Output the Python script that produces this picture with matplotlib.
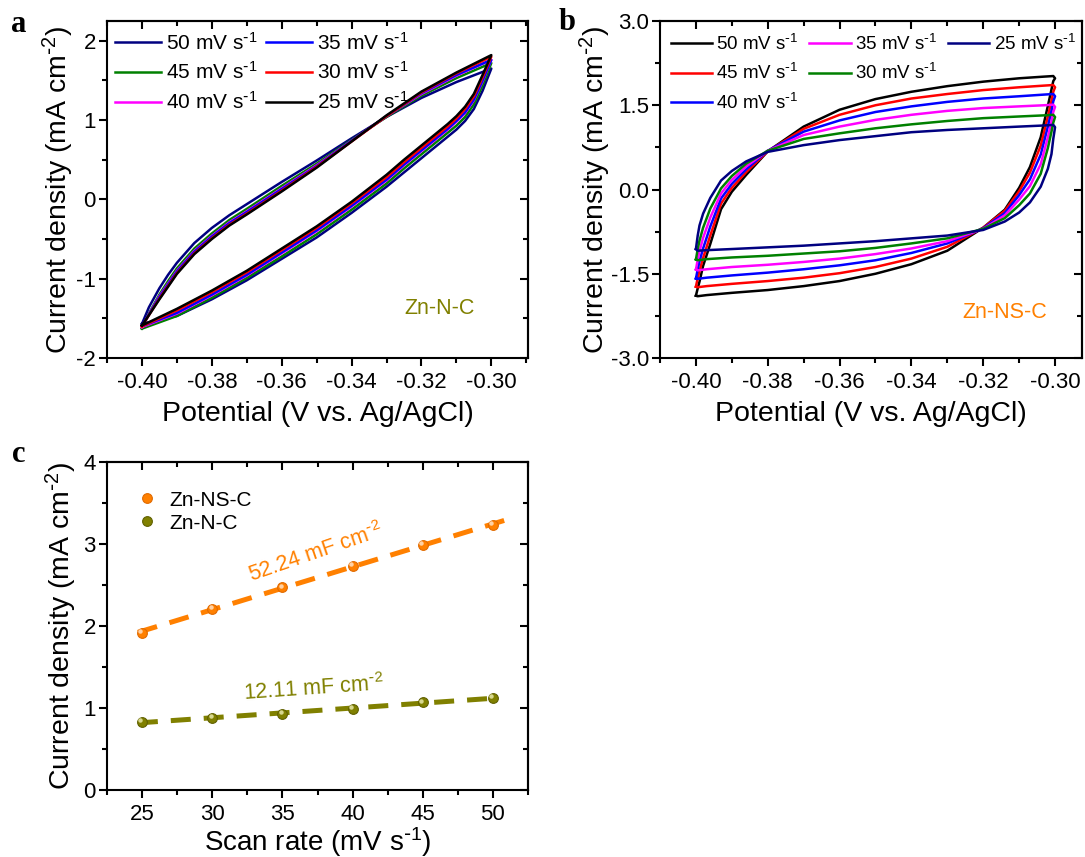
import numpy as np
import matplotlib.pyplot as plt
from matplotlib.ticker import MultipleLocator, FormatStrFormatter
from matplotlib.lines import Line2D
from matplotlib.transforms import ScaledTranslation

plt.rcParams['font.family'] = ['Liberation Sans', 'DejaVu Sans']
plt.rcParams['mathtext.default'] = 'regular'
plt.rcParams['axes.unicode_minus'] = False

# ---- panel a: Zn-N-C CV curves ----
e_a_up = [-0.400, -0.398, -0.395, -0.3925, -0.390, -0.385, -0.380, -0.375,
          -0.370, -0.360, -0.350, -0.340, -0.330, -0.320, -0.310, -0.300]
e_a_dn = [-0.300, -0.3025, -0.305, -0.3075, -0.310, -0.3125, -0.315, -0.320, -0.325,
          -0.330, -0.340, -0.350, -0.360, -0.370, -0.380, -0.390, -0.400]
a_up_50 = [-1.57, -1.36, -1.12, -0.95, -0.80, -0.55, -0.36, -0.20, -0.06, 0.22, 0.49, 0.77, 1.04, 1.28, 1.48, 1.65]
a_up_45 = [-1.63, -1.44, -1.20, -1.03, -0.87, -0.62, -0.43, -0.26, -0.12, 0.17, 0.45, 0.75, 1.04, 1.31, 1.53, 1.72]
a_up_40 = [-1.61, -1.45, -1.22, -1.06, -0.90, -0.65, -0.46, -0.29, -0.15, 0.14, 0.43, 0.74, 1.05, 1.33, 1.56, 1.76]
a_up_35 = [-1.60, -1.45, -1.23, -1.07, -0.91, -0.66, -0.47, -0.30, -0.16, 0.13, 0.42, 0.74, 1.05, 1.34, 1.57, 1.76]
a_up_30 = [-1.60, -1.46, -1.25, -1.09, -0.93, -0.68, -0.49, -0.32, -0.18, 0.11, 0.41, 0.73, 1.05, 1.35, 1.59, 1.80]
a_up_25 = [-1.59, -1.46, -1.26, -1.10, -0.94, -0.69, -0.50, -0.33, -0.19, 0.10, 0.40, 0.73, 1.06, 1.36, 1.60, 1.82]
a_dn_50 = [1.65, 1.37, 1.14, 0.99, 0.88, 0.79, 0.70, 0.52, 0.34, 0.16, -0.17, -0.48, -0.75, -1.02, -1.26, -1.47, -1.57]
a_dn_45 = [1.72, 1.44, 1.20, 1.04, 0.93, 0.84, 0.75, 0.57, 0.39, 0.20, -0.13, -0.44, -0.72, -0.99, -1.24, -1.47, -1.63]
a_dn_40 = [1.76, 1.49, 1.25, 1.09, 0.98, 0.88, 0.79, 0.61, 0.43, 0.24, -0.09, -0.40, -0.68, -0.96, -1.21, -1.44, -1.61]
a_dn_35 = [1.76, 1.50, 1.26, 1.10, 0.99, 0.89, 0.80, 0.62, 0.44, 0.25, -0.08, -0.39, -0.67, -0.95, -1.20, -1.43, -1.60]
a_dn_30 = [1.80, 1.54, 1.30, 1.14, 1.02, 0.92, 0.83, 0.65, 0.47, 0.28, -0.05, -0.36, -0.64, -0.92, -1.17, -1.40, -1.60]
a_dn_25 = [1.82, 1.57, 1.33, 1.17, 1.05, 0.95, 0.86, 0.68, 0.50, 0.31, -0.03, -0.34, -0.62, -0.90, -1.15, -1.38, -1.59]

# ---- panel b: Zn-NS-C CV curves ----
e_b_up = [-0.400, -0.3995, -0.399, -0.398, -0.396, -0.393, -0.390, -0.386, -0.380, -0.370,
          -0.360, -0.350, -0.340, -0.330, -0.320, -0.310, -0.303, -0.3005, -0.300]
e_b_dn = [-0.300, -0.3005, -0.301, -0.302, -0.304, -0.307, -0.310, -0.314, -0.320, -0.330,
          -0.340, -0.350, -0.360, -0.370, -0.380, -0.390, -0.397, -0.3995, -0.400]
b_up_50 = [-1.89, -1.76, -1.64, -1.36, -0.97, -0.35, -0.04, 0.26, 0.68, 1.12,
           1.42, 1.61, 1.74, 1.84, 1.92, 1.98, 2.01, 2.02, 1.98]
b_up_45 = [-1.73, -1.58, -1.45, -1.22, -0.82, -0.25, 0.03, 0.31, 0.68, 1.08,
           1.33, 1.50, 1.62, 1.70, 1.77, 1.82, 1.85, 1.86, 1.82]
b_up_40 = [-1.59, -1.42, -1.28, -1.05, -0.66, -0.16, 0.10, 0.36, 0.69, 1.03,
           1.23, 1.38, 1.48, 1.56, 1.62, 1.66, 1.69, 1.70, 1.66]
b_up_35 = [-1.43, -1.25, -1.10, -0.86, -0.50, -0.07, 0.17, 0.41, 0.69, 0.97,
           1.12, 1.24, 1.33, 1.40, 1.45, 1.48, 1.50, 1.51, 1.47]
b_up_30 = [-1.25, -1.06, -0.91, -0.68, -0.34, 0.02, 0.24, 0.46, 0.69, 0.90,
           1.00, 1.09, 1.16, 1.22, 1.27, 1.30, 1.32, 1.33, 1.29]
b_up_25 = [-1.06, -0.82, -0.64, -0.43, -0.15, 0.16, 0.33, 0.50, 0.67, 0.79,
           0.88, 0.95, 1.02, 1.06, 1.09, 1.12, 1.14, 1.15, 1.11]
b_dn_50 = [1.98, 1.93, 1.78, 1.49, 0.93, 0.40, 0.03, -0.36, -0.68, -1.09,
           -1.33, -1.50, -1.63, -1.72, -1.79, -1.84, -1.88, -1.90, -1.89]
b_dn_45 = [1.82, 1.74, 1.58, 1.30, 0.78, 0.30, -0.03, -0.38, -0.68, -1.02,
           -1.23, -1.38, -1.49, -1.57, -1.63, -1.68, -1.72, -1.74, -1.73]
b_dn_40 = [1.66, 1.57, 1.40, 1.12, 0.62, 0.18, -0.10, -0.42, -0.69, -0.96,
           -1.13, -1.26, -1.35, -1.42, -1.48, -1.53, -1.57, -1.59, -1.58]
b_dn_35 = [1.47, 1.38, 1.21, 0.93, 0.45, 0.06, -0.18, -0.46, -0.70, -0.92,
           -1.05, -1.15, -1.23, -1.29, -1.34, -1.38, -1.42, -1.44, -1.42]
b_dn_30 = [1.29, 1.19, 1.03, 0.74, 0.28, -0.07, -0.28, -0.51, -0.70, -0.87,
           -0.96, -1.04, -1.10, -1.14, -1.18, -1.21, -1.24, -1.26, -1.24]
b_dn_25 = [1.11, 0.90, 0.63, 0.37, 0.05, -0.23, -0.41, -0.57, -0.72, -0.82,
           -0.87, -0.92, -0.96, -1.00, -1.03, -1.06, -1.08, -1.09, -1.06]

# ---- panel c: current density vs scan rate ----
scan_rate = [25, 30, 35, 40, 45, 50]
j_nsc = [1.92, 2.21, 2.47, 2.73, 2.99, 3.23]
j_nc = [0.83, 0.88, 0.93, 0.99, 1.07, 1.12]

labels_rate = ['50', '45', '40', '35', '30', '25']
colors_a = ['#000080', '#008000', '#FF00FF', '#0000FF', '#FF0000', '#000000']
colors_b = ['#000000', '#FF0000', '#0000FF', '#FF00FF', '#008000', '#000080']
orange = '#FF8000'
olive = '#808000'
sup1 = r'$^{\text{-}1}$'
sup2 = r'$^{\text{-}2}$'

fig = plt.figure(figsize=(10.85, 8.57), dpi=100)
W, H = 1085, 857
ax_a = fig.add_axes([107 / W, 1 - 358 / H, 421 / W, 337 / H])
ax_b = fig.add_axes([660 / W, 1 - 358 / H, 422 / W, 337 / H])
ax_c = fig.add_axes([107 / W, 1 - 790 / H, 421 / W, 328 / H])


def style(ax, xmaj, xmin, ymaj, ymin, xfmt, yfmt):
    for s in ax.spines.values():
        s.set_linewidth(1.5)
    ax.xaxis.set_major_locator(MultipleLocator(xmaj))
    ax.xaxis.set_minor_locator(MultipleLocator(xmin))
    ax.yaxis.set_major_locator(MultipleLocator(ymaj))
    ax.yaxis.set_minor_locator(MultipleLocator(ymin))
    ax.xaxis.set_major_formatter(FormatStrFormatter(xfmt))
    ax.yaxis.set_major_formatter(FormatStrFormatter(yfmt))
    ax.tick_params(which='both', direction='out', width=1.5, labelsize=16)
    ax.tick_params(which='major', length=6)
    ax.tick_params(which='minor', length=3.5)
    ax.tick_params(axis='x', pad=4)
    ax.tick_params(axis='y', pad=2)
    top = ax.secondary_xaxis('top')
    right = ax.secondary_yaxis('right')
    for sec, loc in ((top.xaxis, (xmaj, xmin)), (right.yaxis, (ymaj, ymin))):
        sec.set_major_locator(MultipleLocator(loc[0]))
        sec.set_minor_locator(MultipleLocator(loc[1]))
    top.tick_params(which='both', direction='in', width=1.5, labeltop=False)
    right.tick_params(which='both', direction='in', width=1.5, labelright=False)
    top.tick_params(which='major', length=6)
    top.tick_params(which='minor', length=3.5)
    right.tick_params(which='major', length=6)
    right.tick_params(which='minor', length=3.5)
    top.spines['top'].set_linewidth(1.5)
    right.spines['right'].set_linewidth(1.5)


# panel a
ups_a = [a_up_50, a_up_45, a_up_40, a_up_35, a_up_30, a_up_25]
dns_a = [a_dn_50, a_dn_45, a_dn_40, a_dn_35, a_dn_30, a_dn_25]
handles_a = []
for up, dn, c, lab in zip(ups_a, dns_a, colors_a, labels_rate):
    x = list(e_a_up) + list(e_a_dn)
    y = list(up) + list(dn)
    ln, = ax_a.plot(x, y, color=c, lw=1.8, label=lab + ' mV s' + sup1)
    handles_a.append(ln)
ax_a.set_xlim(-0.41, -0.2895)
ax_a.set_ylim(-2, 2.25)
style(ax_a, 0.02, 0.01, 1, 0.5, '%.2f', '%d')
ax_a.set_xlabel('Potential (V vs. Ag/AgCl)', fontsize=20.5, labelpad=6)
ax_a.set_ylabel('Current density (mA cm' + sup2 + ')', fontsize=20.5, labelpad=0)
ax_a.legend(handles=handles_a, ncol=2, loc='upper left', bbox_to_anchor=(0.02, 0.968),
            frameon=False, fontsize=15, handlelength=2.2, handletextpad=0.25,
            columnspacing=0.4, labelspacing=0.37, borderpad=0, borderaxespad=0)
ax_a.text(0.79, 0.148, 'Zn-N-C', transform=ax_a.transAxes, color=olive,
          fontsize=15.5, ha='center', va='center')

# panel b
ups_b = [b_up_50, b_up_45, b_up_40, b_up_35, b_up_30, b_up_25]
dns_b = [b_dn_50, b_dn_45, b_dn_40, b_dn_35, b_dn_30, b_dn_25]
handles_b = []
for up, dn, c, lab in zip(ups_b, dns_b, colors_b, labels_rate):
    x = list(e_b_up) + list(e_b_dn)
    y = list(up) + list(dn)
    ln, = ax_b.plot(x, y, color=c, lw=1.8, label=lab + ' mV s' + sup1)
    handles_b.append(ln)
ax_b.set_xlim(-0.41, -0.2925)
ax_b.set_ylim(-3, 3)
style(ax_b, 0.02, 0.01, 1.5, 0.75, '%.2f', '%.1f')
ax_b.set_xlabel('Potential (V vs. Ag/AgCl)', fontsize=20.5, labelpad=6)
ax_b.set_ylabel('Current density (mA cm' + sup2 + ')', fontsize=20.5, labelpad=-1.5)
blank = Line2D([], [], linestyle='none')
hb = handles_b[:5] + [blank, handles_b[5], blank, blank]
lb = [h.get_label() for h in handles_b[:5]] + ['', handles_b[5].get_label(), '', '']
ax_b.legend(hb, lb, ncol=3, loc='upper left', bbox_to_anchor=(0.025, 0.962),
            frameon=False, fontsize=13.5, handlelength=2.2, handletextpad=0.25,
            columnspacing=0.55, labelspacing=0.5, borderpad=0, borderaxespad=0)
ax_b.text(0.817, 0.134, 'Zn-NS-C', transform=ax_b.transAxes, color=orange,
          fontsize=15.5, ha='center', va='center')

# panel c
for j, c, x_end in ((j_nsc, orange, 51.2), (j_nc, olive, 50.3)):
    k, b0 = np.polyfit(scan_rate, j, 1)
    xf = np.array([24.7, x_end])
    ax_c.plot(xf, k * xf + b0, color=c, lw=3.6, dashes=(4, 2.6),
              dash_capstyle='butt')
hl = ScaledTranslation(-1.2 / 72, 1.2 / 72, fig.dpi_scale_trans)
ax_c.plot(scan_rate, j_nsc, 'o', ms=7, mfc=orange, mec='#E06A00', mew=0.8, zorder=3)
ax_c.plot(scan_rate, j_nsc, 'o', ms=2.2, color='#FFD2A6', zorder=4,
          transform=ax_c.transData + hl)
ax_c.plot(scan_rate, j_nc, 'o', ms=7, mfc=olive, mec='#606000', mew=0.8, zorder=3)
ax_c.plot(scan_rate, j_nc, 'o', ms=2.2, color='#D8D890', zorder=4,
          transform=ax_c.transData + hl)
ax_c.set_xlim(22.5, 52.5)
ax_c.set_ylim(0, 4)
style(ax_c, 5, 2.5, 1, 0.5, '%d', '%d')
ax_c.set_xlabel('Scan rate (mV s' + sup1 + ')', fontsize=20, labelpad=0)
ax_c.set_ylabel('Current density (mA cm' + sup2 + ')', fontsize=20.5, labelpad=3.5)
hc = [Line2D([], [], marker='o', ls='none', ms=7, mfc=orange, mec='#E06A00', mew=0.8),
      Line2D([], [], marker='o', ls='none', ms=7, mfc=olive, mec='#606000', mew=0.8)]
ax_c.legend(hc, ['Zn-NS-C', 'Zn-N-C'], loc='upper left', bbox_to_anchor=(0.07, 0.913),
            frameon=False, fontsize=15, handlelength=1.0, handletextpad=0.6,
            labelspacing=0.2, borderpad=0, borderaxespad=0)
ax_c.text(37.4, 2.89, '52.24 mF cm' + sup2, color=orange, fontsize=15.5,
          rotation=19, ha='center', va='center', rotation_mode='anchor')
ax_c.text(37.2, 1.24, '12.11 mF cm' + sup2, color=olive, fontsize=15.5,
          rotation=4, ha='center', va='center', rotation_mode='anchor')

for lx, ly, t in ((19, 25, 'a'), (567, 22, 'b'), (19, 455, 'c')):
    fig.text(lx / W, 1 - ly / H, t, fontsize=22, fontweight='bold',
             family='Liberation Serif', ha='center', va='center')

plt.savefig('out.png', dpi=100)
